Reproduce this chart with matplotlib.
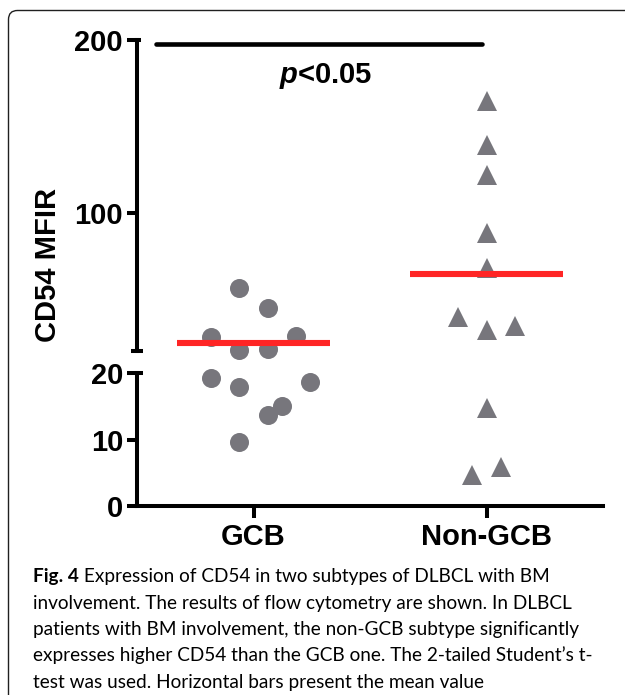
import numpy as np
import matplotlib
matplotlib.use("Agg")
import matplotlib.pyplot as plt
from matplotlib.patches import FancyBboxPatch
from matplotlib.transforms import IdentityTransform

# data
groups = ["GCB", "Non-GCB"]
gcb_values = [56.8, 44.9, 28.5, 29.1, 20.8, 21.2, 19.2, 17.9, 18.6, 15.1, 13.7, 9.6]
nongcb_values = [164.9, 139.2, 122.1, 88.6, 68.1, 40.0, 32.5, 34.4, 14.7, 5.9, 4.6]
# horizontal scatter slots (in marker widths) as drawn by Prism
gcb_slots = [-0.5, 0.5, -1.5, 1.5, -0.5, 0.5, -1.5, -0.5, 2, 1, 0.5, -0.5]
nongcb_slots = [0, 0, 0, 0, 0, -1, 0, 1, 0, 0.5, -0.5]
upper_ticks = [100, 200]
lower_ticks = [0, 10, 20]
break_value = 20
top_value = 200
p_label = r"$p$<0.05"
caption_bold = "Fig. 4"
caption_lines = [
    " Expression of CD54 in two subtypes of DLBCL with BM",
    "involvement. The results of flow cytometry are shown. In DLBCL",
    "patients with BM involvement, the non-GCB subtype significantly",
    "expresses higher CD54 than the GCB one. The 2-tailed Student\u2019s t-",
    "test was used. Horizontal bars present the mean value",
]
cap_font = "Lato"

plt.rcParams["font.family"] = "Liberation Sans"
plt.rcParams["font.weight"] = "bold"
plt.rcParams["mathtext.fontset"] = "custom"
plt.rcParams["mathtext.it"] = "Liberation Sans:italic:bold"
plt.rcParams["mathtext.rm"] = "Liberation Sans:bold"

W, H = 625, 695
fig = plt.figure(figsize=(W / 100, H / 100), dpi=100)


def box(x0, y0, x1, y1):
    return [x0 / W, 1 - y1 / H, (x1 - x0) / W, (y1 - y0) / H]


ax_up = fig.add_axes(box(137, 40, 603, 351.4))
ax_lo = fig.add_axes(box(137, 373, 603, 506))

grey = "#77767c"
red = "#ff2525"
lw = 2.9
slot_w = 0.122
fs = 21

for ax in (ax_up, ax_lo):
    ax.set_xlim(-0.5, 1.5)
    ax.spines["top"].set_visible(False)
    ax.spines["right"].set_visible(False)
    ax.spines["left"].set_linewidth(lw)
    ax.spines["bottom"].set_linewidth(lw)
    ax.tick_params(axis="y", length=7, width=lw, direction="out", pad=3, labelsize=fs)
    ax.patch.set_alpha(0)

ax_up.set_ylim(break_value, top_value)
ax_up.set_yticks(upper_ticks)
ax_up.spines["bottom"].set_visible(False)
ax_up.set_xticks([])

ax_lo.set_ylim(0, break_value)
ax_lo.set_yticks(lower_ticks)
ax_lo.set_xticks([0, 1])
ax_lo.set_xticklabels(groups)
ax_lo.tick_params(axis="x", length=8.5, width=lw, direction="out", pad=4, labelsize=fs)

series = [(gcb_values, gcb_slots, "o"), (nongcb_values, nongcb_slots, "^")]
for i, (vals, slots, mk) in enumerate(series):
    vals = np.array(vals)
    xs = i + np.array(slots) * slot_w
    hi = vals >= break_value
    ax_up.plot(xs[hi], vals[hi], mk, color=grey, ms=13.7, mew=0, clip_on=False, zorder=3)
    ax_lo.plot(xs[~hi], vals[~hi], mk, color=grey, ms=13.7, mew=0, clip_on=False, zorder=3)
    m = vals.mean()
    target = ax_up if m >= break_value else ax_lo
    target.plot([i - 0.33, i + 0.33], [m, m], color=red, lw=4.4, solid_capstyle="butt", zorder=4)

# significance bar
ax_up.plot([-0.42, 0.98], [197.7, 197.7], color="black", lw=3.3, solid_capstyle="round", clip_on=False)
ax_up.text(0.31, 179, p_label, ha="center", va="center", fontsize=fs, fontweight="bold")

# caps at the axis break
ax_up.plot([-0.013, 0.013], [0, 0], transform=ax_up.transAxes, color="black", lw=lw, clip_on=False,
           solid_capstyle="butt")
ax_lo.plot([0, 0.013], [1, 1], transform=ax_lo.transAxes, color="black", lw=lw, clip_on=False,
           solid_capstyle="butt")
ax_up.plot([0, 0.008], [1, 1], transform=ax_up.transAxes, color="black", lw=lw, clip_on=False,
           solid_capstyle="butt")

fig.text(48 / W, 1 - 265 / H, "CD54 MFIR", rotation=90, ha="center", va="center",
         fontsize=fs, fontweight="bold")

# caption: size chosen so the first line spans the same width as in the figure
baselines = [582, 608.5, 635, 661.5, 688]
renderer = fig.canvas.get_renderer()
probe = fig.text(0, 0, caption_bold + caption_lines[0], fontsize=10, family=cap_font)
probe_w = probe.get_window_extent(renderer).width
probe.remove()
fs_cap = 10 * (554 - 33) / probe_w

t0 = fig.text(33 / W, 1 - baselines[0] / H, caption_bold, fontsize=fs_cap, fontweight="bold",
              family=cap_font, va="baseline", ha="left")
bb = t0.get_window_extent(renderer)
fig.text(bb.x1 / W, 1 - baselines[0] / H, caption_lines[0], fontsize=fs_cap, fontweight="normal",
         family=cap_font, va="baseline", ha="left")
for line, yb in zip(caption_lines[1:], baselines[1:]):
    fig.text(33 / W, 1 - yb / H, line, fontsize=fs_cap, fontweight="normal",
             family=cap_font, va="baseline", ha="left")

# rounded frame around the panel
frame = FancyBboxPatch((8.5, -60), 700, H - 10.5 + 60, boxstyle="round,pad=0,rounding_size=9",
                       transform=IdentityTransform(), fill=False, ec="#202020", lw=1.0)
fig.patches.append(frame)

fig.savefig("out.png", dpi=100)
